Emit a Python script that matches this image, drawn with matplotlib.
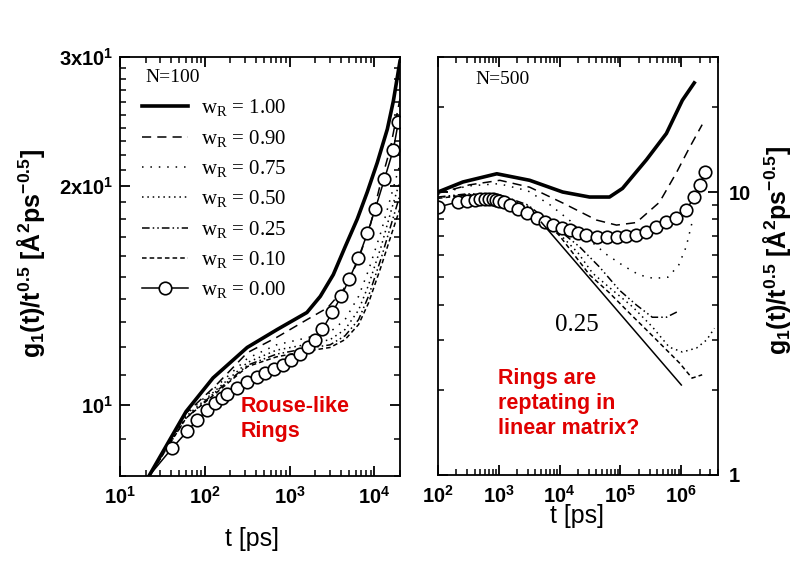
import numpy as np
import matplotlib.pyplot as plt
from matplotlib.ticker import FixedLocator, FixedFormatter, LogLocator, NullFormatter, LogFormatterSciNotation

plt.rcParams['font.family'] = ['Liberation Sans', 'DejaVu Sans']
plt.rcParams['font.weight'] = 'bold'
plt.rcParams['mathtext.fontset'] = 'custom'
for a in ('xtick', 'ytick'):
    plt.rcParams[a + '.direction'] = 'in'
plt.rcParams['xtick.top'] = True
plt.rcParams['ytick.right'] = True

# ---- data ----
labels = ['1.00', '0.90', '0.75', '0.50', '0.25', '0.10', '0.00']

# left panel, N=100
left_t100 = [20, 60, 125, 316, 714, 1600, 2300, 3273, 4530, 6280, 8240, 10800, 14200, 16700, 20000]
left_g100 = [7.85, 9.8, 10.9, 12.0, 12.7, 13.4, 14.1, 15.1, 16.5, 18.0, 19.6, 21.5, 23.9, 26.1, 29.6]
left_t090 = [20, 60, 130, 316, 714, 1600, 2800, 4300, 6300, 9000, 11750, 15400, 20000]
left_g090 = [7.85, 9.75, 10.6, 11.8, 12.4, 13.1, 13.6, 14.4, 15.7, 17.7, 20.1, 22.5, 26.3]
left_t = [20, 60, 130, 320, 700, 1500, 3000, 4500, 6500, 8500, 12000, 16000, 20000]
left_g075 = [7.85, 9.7, 10.55, 11.6, 12.1, 12.35, 12.6, 13.1, 14.1, 15.3, 17.3, 19.5, 21.4]
left_g050 = [7.85, 9.65, 10.45, 11.45, 11.9, 12.1, 12.3, 12.7, 13.5, 14.6, 16.5, 18.6, 20.3]
left_g025 = [7.85, 9.6, 10.4, 11.35, 11.75, 11.95, 12.1, 12.45, 13.1, 14.1, 15.9, 17.8, 19.4]
left_g010 = [7.85, 9.6, 10.35, 11.3, 11.65, 11.85, 12.0, 12.3, 12.9, 13.8, 15.5, 17.2, 18.6]
left_t000 = [21, 41, 62, 81, 106, 132, 160, 183, 241, 316, 414, 515, 658, 840, 1044,
             1334, 1660, 2005, 2426, 3187, 4064, 5055, 6460, 8245, 10260, 13100, 16700, 19100]
left_g000 = [7.95, 8.73, 9.21, 9.54, 9.84, 10.06, 10.22, 10.35, 10.55, 10.75, 10.92, 11.06,
             11.20, 11.34, 11.52, 11.74, 12.0, 12.3, 12.7, 13.4, 14.1, 14.9, 15.9, 17.2,
             18.6, 20.4, 22.4, 24.4]

# right panel, N=500
right_t100 = [100, 257, 927, 3220, 11200, 31000, 66000, 108000, 267000, 568000, 1.04e6, 1.63e6]
right_g100 = [10.0, 10.85, 11.6, 11.0, 10.0, 9.6, 9.6, 10.3, 13.0, 16.1, 21.1, 24.3]
right_t090 = [100, 330, 1040, 3220, 11200, 40400, 86000, 182000, 437000, 830000, 1.35e6, 2.2e6]
right_g090 = [9.9, 10.6, 11.0, 10.4, 9.15, 7.96, 7.64, 7.8, 9.2, 11.7, 14.3, 17.3]
right_t075 = [100, 300, 1000, 3000, 7000, 15000, 30000, 60000, 110000, 200000, 350000,
              600000, 900000, 1.2e6, 1.5e6]
right_g075 = [9.8, 10.5, 10.7, 10.1, 9.0, 7.9, 6.8, 6.0, 5.5, 5.1, 4.95, 5.0, 5.5, 6.4, 7.8]
right_t050 = [100, 300, 1000, 3000, 6000, 10000, 20000, 34700, 74000, 158000, 333000,
              633000, 1.04e6, 1.78e6, 2.6e6, 3.5e6]
right_g050 = [9.55, 9.8, 9.7, 8.9, 7.9, 7.1, 6.1, 5.17, 4.5, 3.93, 3.34, 2.83, 2.72, 2.81, 3.0, 3.3]
right_t025 = [100, 300, 1000, 3000, 6000, 10000, 21300, 45300, 96000, 182000, 333000, 568000, 850000]
right_g025 = [9.6, 9.85, 9.8, 9.0, 8.0, 7.3, 6.4, 5.43, 4.5, 3.99, 3.61, 3.61, 3.77]
right_t010 = [100, 300, 1000, 3000, 6000, 10000, 31000, 66000, 141000, 299000, 568000,
              930000, 1.5e6, 2.2e6]
right_g010 = [9.5, 9.75, 9.6, 8.8, 7.8, 7.0, 5.1, 4.4, 3.73, 3.18, 2.77, 2.49, 2.2, 2.26]
right_t000 = [100, 213, 300, 400, 500, 600, 700, 800, 900, 1000, 1200, 1500, 2050, 2880,
              4200, 5670, 7670, 10800, 14600, 19700, 27600, 40400, 59000, 86000, 125000,
              183000, 267000, 390000, 568000, 830000, 1.2e6, 1.63e6, 2.0e6, 2.47e6]
right_g000 = [8.85, 9.22, 9.32, 9.38, 9.42, 9.44, 9.45, 9.42, 9.38, 9.33, 9.2, 9.0, 8.7,
              8.43, 8.09, 7.83, 7.64, 7.46, 7.34, 7.17, 7.05, 6.93, 6.93, 6.93, 7.0, 7.05,
              7.23, 7.52, 7.84, 8.09, 8.63, 9.6, 10.6, 11.8]
slope_t = [5e3, 1e6]
slope_g = [7.82, 2.08]

# line styles per wR
styles = {
    '1.00': dict(color='k', lw=2.6, ls='-'),
    '0.90': dict(color='k', lw=1.1, ls=(0, (6, 4))),
    '0.75': dict(color='k', lw=1.1, ls=(0, (1, 4.5))),
    '0.50': dict(color='k', lw=1.1, ls=(0, (1, 2.5))),
    '0.25': dict(color='k', lw=1.1, ls=(0, (5, 2, 1, 2, 1, 2))),
    '0.10': dict(color='k', lw=1.1, ls=(0, (3, 2))),
    '0.00': dict(color='k', lw=1.1, ls='-', marker='o', ms=9, mfc='white', mec='k', mew=1.2),
}


def style_axes(ax):
    ax.set_xscale('log')
    ax.set_yscale('log')
    for s in ax.spines.values():
        s.set_linewidth(1.3)
    ax.xaxis.set_major_locator(LogLocator(base=10, numticks=20))
    ax.xaxis.set_major_formatter(LogFormatterSciNotation())
    ax.xaxis.set_minor_locator(LogLocator(base=10, subs=np.arange(2, 10), numticks=20))
    ax.xaxis.set_minor_formatter(NullFormatter())


def finish_ticks(ax, ypad):
    ax.tick_params(which='both', direction='in', top=True, bottom=True, left=True,
                   right=True, labelsize=14.5, color='k')
    ax.tick_params(which='major', length=7.5, width=1.3)
    ax.tick_params(which='minor', length=4, width=1.1)
    ax.tick_params(axis='x', which='major', pad=7)
    ax.tick_params(axis='y', which='major', pad=ypad)


fig = plt.figure(figsize=(8.03, 5.61), dpi=100)
axL = fig.add_axes([0.1494, 0.1515, 0.3487, 0.7469])
axR = fig.add_axes([0.5454, 0.1533, 0.3487, 0.7451])

# ---- left panel ----
left_series = [(left_t100, left_g100), (left_t090, left_g090), (left_t, left_g075),
               (left_t, left_g050), (left_t, left_g025), (left_t, left_g010),
               (left_t000, left_g000)]
for lab, (t, g) in zip(labels, left_series):
    kw = dict(styles[lab])
    if lab == '0.00':
        kw['markevery'] = slice(1, None)
    axL.plot(t, g, label=r'w$_\mathdefault{R}$ = ' + lab, **kw)

style_axes(axL)
axL.set_xlim(10, 2e4)
axL.set_ylim(8, 30)
axL.yaxis.set_major_locator(FixedLocator([10, 20, 30]))
axL.yaxis.set_major_formatter(FixedFormatter([r'$\mathdefault{10^1}$', r'$\mathdefault{2x10^1}$',
                                              r'$\mathdefault{3x10^1}$']))
axL.yaxis.set_minor_locator(FixedLocator(np.arange(8, 31)))
axL.yaxis.set_minor_formatter(NullFormatter())
finish_ticks(axL, 5)

axL.text(0.09, 0.952, 'N=100', transform=axL.transAxes, family='Liberation Serif',
         fontweight='normal', fontsize=14, va='center')
axL.legend(loc='upper left', bbox_to_anchor=(0.08, 0.903), frameon=False, borderpad=0,
           borderaxespad=0, handlelength=2.2, handletextpad=0.6, labelspacing=0.42,
           prop=dict(family='Liberation Serif', weight='normal', size=15))
axL.text(0.43, 0.19, 'Rouse-like\nRings', transform=axL.transAxes, color='#e00000',
         fontsize=15.5, fontweight='bold', va='top', linespacing=1.25)

axL.set_xlabel('t [ps]', fontsize=18, fontweight='normal')
axL.xaxis.set_label_coords(0.471, -0.122)
ylab = r'g$_\mathdefault{1}$(t)/t$^\mathdefault{0.5}$ [Å$^\mathdefault{2}$ps$^\mathdefault{-0.5}$]'
axL.set_ylabel(ylab, fontsize=18, fontweight='bold')
axL.yaxis.set_label_coords(-0.262, 0.532)

# ---- right panel ----
right_series = [(right_t100, right_g100), (right_t090, right_g090), (right_t075, right_g075),
                (right_t050, right_g050), (right_t025, right_g025), (right_t010, right_g010),
                (right_t000, right_g000)]
for lab, (t, g) in zip(labels, right_series):
    axR.plot(t, g, **styles[lab])
axR.plot(slope_t, slope_g, color='k', lw=1.1)

style_axes(axR)
axR.set_xlim(1e2, 4e6)
axR.set_ylim(1, 30)
axR.yaxis.set_major_locator(FixedLocator([1, 10]))
axR.yaxis.set_major_formatter(FixedFormatter(['1', '10']))
axR.yaxis.set_minor_locator(LogLocator(base=10, subs=np.arange(2, 10)))
axR.yaxis.set_minor_formatter(NullFormatter())
finish_ticks(axR, 8)
axR.tick_params(axis='y', labelleft=False, labelright=True)

axR.text(0.132, 0.945, 'N=500', transform=axR.transAxes, family='Liberation Serif',
         fontweight='normal', fontsize=14, va='center')
axR.text(0.496, 0.359, '0.25', transform=axR.transAxes, family='Liberation Serif',
         fontweight='normal', fontsize=18, ha='center', va='center')
axR.text(0.214, 0.255, 'Rings are\nreptating in\nlinear matrix?', transform=axR.transAxes,
         color='#e00000', fontsize=15.5, fontweight='bold', va='top', linespacing=1.25)

axR.set_xlabel('t [ps]', fontsize=18, fontweight='normal')
axR.xaxis.set_label_coords(0.496, -0.07)
axR.set_ylabel(ylab, fontsize=18, fontweight='bold')
axR.yaxis.set_label_coords(1.268, 0.537)

fig.savefig('out.png', dpi=100)
